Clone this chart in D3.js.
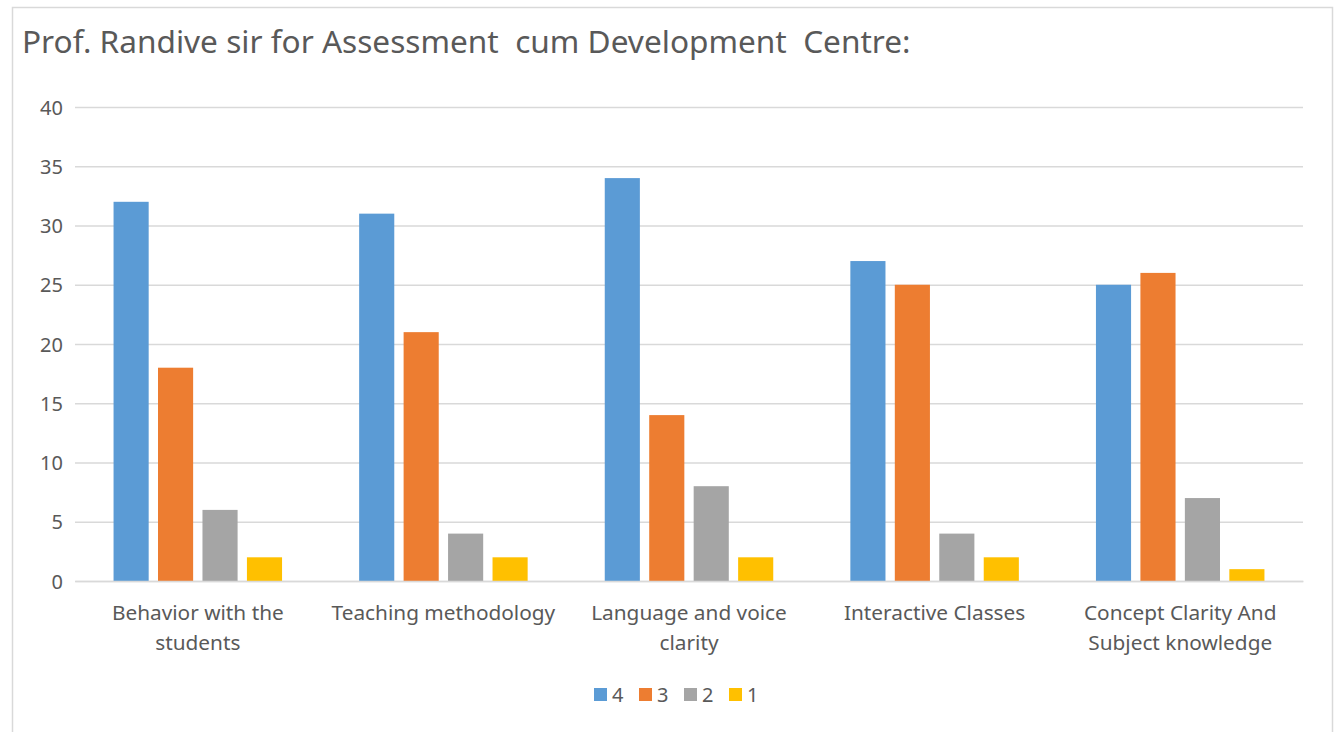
<!DOCTYPE html>
<html>
<head>
<meta charset="utf-8">
<script src="https://cdn.jsdelivr.net/npm/d3@7"></script>
<style>
  html, body { margin: 0; padding: 0; background: #fff; }
  svg { display: block; }
</style>
</head>
<body>
<svg id="chart" width="1337" height="732"></svg>
<script>
const categories = ["Behavior with the students", "Teaching methodology", "Language and voice clarity", "Interactive Classes", "Concept Clarity And Subject knowledge"];
const seriesNames = ["4", "3", "2", "1"];
const values4 = [32, 31, 34, 27, 25];
const values3 = [18, 21, 14, 25, 26];
const values2 = [6, 4, 8, 4, 7];
const values1 = [2, 2, 2, 2, 1];
const yTicks = [0, 5, 10, 15, 20, 25, 30, 35, 40];
const colors = ["#5B9BD5", "#ED7D31", "#A5A5A5", "#FFC000"];
const chartTitle = "Prof. Randive sir for Assessment  cum Development  Centre:";

(function () {
const seriesValues = [values4, values3, values2, values1];
const FONT = "'Noto Sans', 'Open Sans', sans-serif";
const TXT = "#595959";

const svg = d3.select("#chart");

// chart border
svg.append("rect").attr("x", 12.5).attr("y", 7.5).attr("width", 1320).attr("height", 740)
  .attr("fill", "#fff").attr("stroke", "#D9D9D9").attr("stroke-width", 1.5);

svg.append("text").attr("x", 22).attr("y", 53)
  .attr("font-family", FONT).attr("font-size", 31.6).attr("fill", TXT)
  .style("white-space", "pre").attr("xml:space", "preserve")
  .text(chartTitle);

const pLeft = 75, pRight = 1303, pTop = 107, pBottom = 581;
const x0 = d3.scaleBand().domain(categories).range([pLeft, pRight]).paddingInner(0).paddingOuter(0);
const groupWidth = 168.5;
const x1 = d3.scaleBand().domain(seriesNames).range([0, groupWidth]).paddingInner(0.21);
const y = d3.scaleLinear().domain([0, 40]).range([pBottom, pTop]);

// gridlines
const yAxis = d3.axisLeft(y).tickValues(yTicks).tickSize(-(pRight - pLeft)).tickPadding(12).tickFormat(d3.format("d"));
const gy = svg.append("g").attr("transform", `translate(${pLeft},0)`).call(yAxis);
gy.select(".domain").remove();
gy.selectAll(".tick line").attr("stroke", "#D9D9D9").attr("stroke-width", 1.5);
gy.selectAll(".tick text").attr("font-family", FONT).attr("font-size", 20).attr("fill", TXT)
  .attr("text-anchor", "end").attr("x", -12).attr("dy", "0.35em");

// bars
const groups = svg.append("g").selectAll("g").data(categories).join("g")
  .attr("transform", d => `translate(${x0(d) + (x0.bandwidth() - groupWidth) / 2},0)`);
groups.selectAll("rect").data((d, i) => seriesNames.map((s, j) => ({ s, j, v: seriesValues[j][i] })))
  .join("rect")
  .attr("x", d => x1(d.s))
  .attr("width", x1.bandwidth())
  .attr("y", d => y(d.v))
  .attr("height", d => y(0) - y(d.v))
  .attr("fill", d => colors[d.j]);

// baseline axis
const xAxis = d3.axisBottom(x0).tickSize(0).tickPadding(0);
const gx = svg.append("g").attr("transform", `translate(0,${pBottom})`).call(xAxis);
gx.select(".domain").attr("stroke", "#D9D9D9").attr("stroke-width", 1.5);
gx.selectAll(".tick text").remove();

// category labels with wrap
const LFS = 20.8;
const measure = svg.append("text").attr("font-family", FONT).attr("font-size", LFS).attr("visibility", "hidden");
function wrapLines(str, maxW) {
  const words = str.split(" ");
  const lines = [];
  let cur = "";
  for (const w of words) {
    const t = cur ? cur + " " + w : w;
    measure.text(t);
    if (measure.node().getComputedTextLength() > maxW && cur) {
      lines.push(cur); cur = w;
    } else cur = t;
  }
  if (cur) lines.push(cur);
  return lines;
}
gx.selectAll(".tick").each(function(d) {
  const lines = wrapLines(d, 238);
  const t = d3.select(this).append("text")
    .attr("font-family", FONT).attr("font-size", LFS).attr("fill", TXT).attr("text-anchor", "middle");
  lines.forEach((ln, k) => {
    t.append("tspan").attr("x", 0).attr("y", 39 + k * 30).text(ln);
  });
});
measure.remove();

// legend
const legendX = [594, 639, 684, 729];
const lg = svg.append("g").selectAll("g").data(seriesNames).join("g")
  .attr("transform", (d, i) => `translate(${legendX[i]},688)`);
lg.append("rect").attr("width", 13).attr("height", 13).attr("fill", (d, i) => colors[i]);
lg.append("text").attr("x", 18).attr("y", 6.5).attr("dy", "0.36em")
  .attr("font-family", FONT).attr("font-size", 20).attr("fill", TXT).text(d => d);
})();
</script>
</body>
</html>
